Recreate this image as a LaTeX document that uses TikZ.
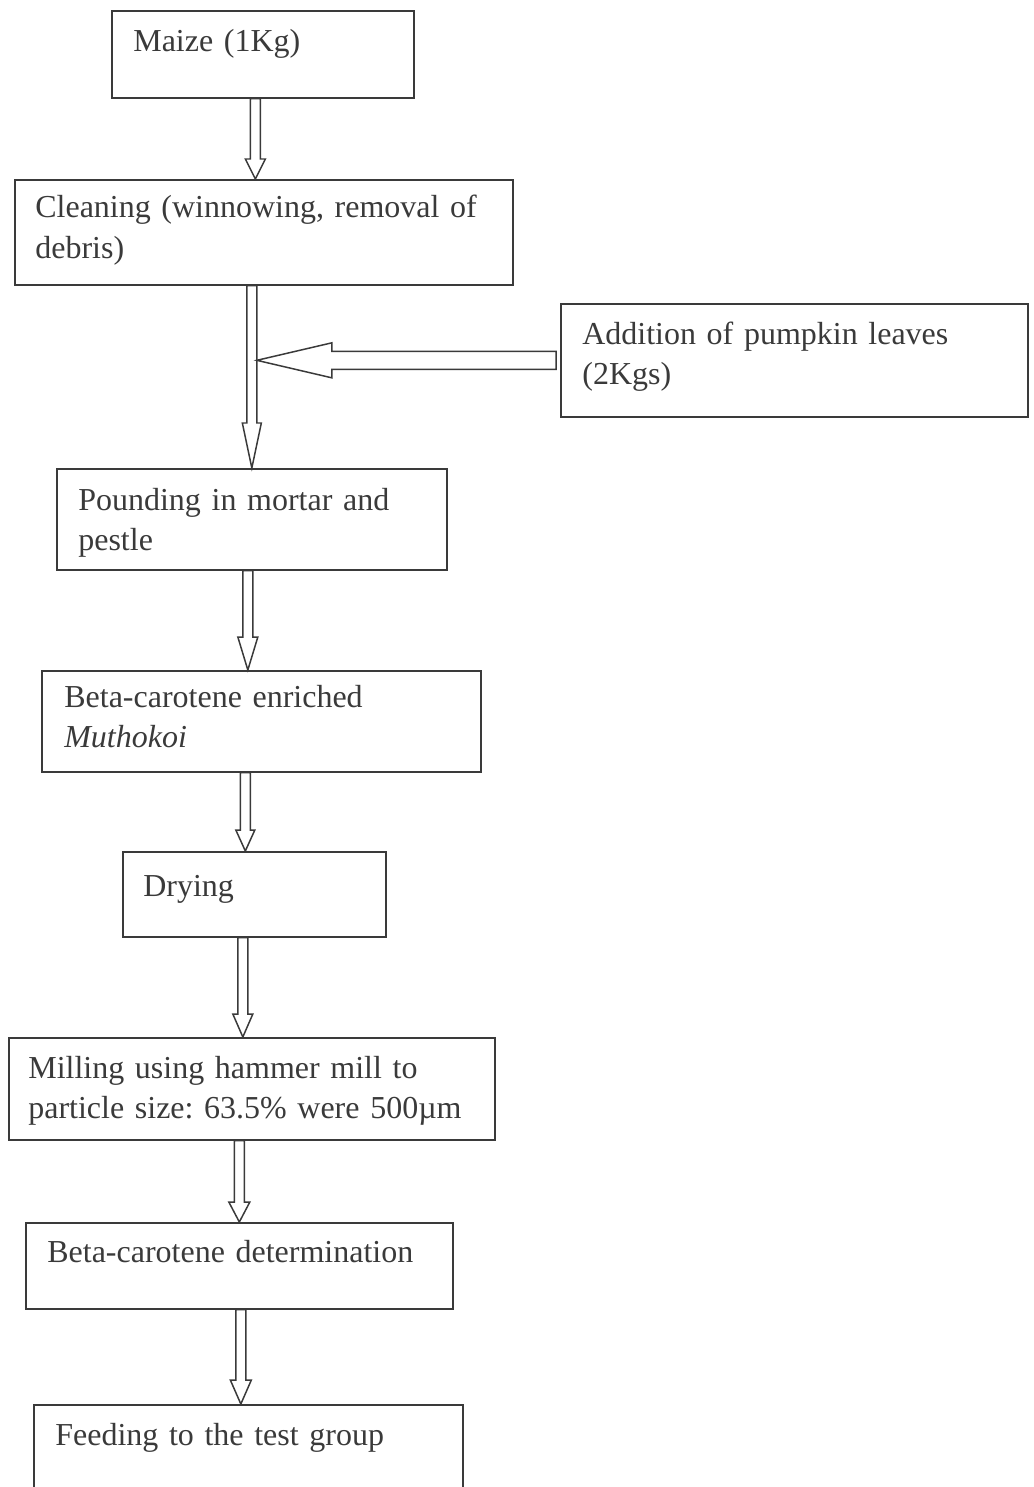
\documentclass[tikz,border=0pt]{standalone}
\usepackage{fontspec}
\setmainfont{Liberation Serif}
\frenchspacing
\usetikzlibrary{calc}
\definecolor{ink}{HTML}{3A3A3A}
\tikzset{
  stepbox/.style={draw=ink, line width=0.95pt, rectangle, inner sep=0pt, anchor=north west},
  steptxt/.style={anchor=base west, inner sep=0pt, align=left, text width=9.5cm, text=ink,
    font=\fontsize{18.2}{22.8}\selectfont},
  hollow/.style={draw=ink, line width=0.85pt, line join=miter},
}
% hollow block arrow pointing down: from, to, head length, head half width
\newcommand{\downarr}[4]{%
  \draw[hollow] ($(#1)+(-0.1,0)$) -- ($(#2)+(-0.1,#3)$) -- ($(#2)+(-#4,#3)$) -- (#2)
    -- ($(#2)+(#4,#3)$) -- ($(#2)+(0.1,#3)$) -- ($(#1)+(0.1,0)$) -- cycle;}

\begin{document}
\begin{tikzpicture}
\useasboundingbox (0,0) rectangle (20.68,-29.74);

% boxes
\node[stepbox, minimum width=6.04cm, minimum height=1.74cm] (maize)   at (2.22,-0.20)  {};
\node[stepbox, minimum width=9.96cm, minimum height=2.10cm] (clean)   at (0.28,-3.58)  {};
\node[stepbox, minimum width=9.34cm, minimum height=2.26cm] (pumpkin) at (11.20,-6.06) {};
\node[stepbox, minimum width=7.80cm, minimum height=2.02cm] (pound)   at (1.12,-9.36)  {};
\node[stepbox, minimum width=8.78cm, minimum height=2.02cm] (enrich)  at (0.82,-13.40) {};
\node[stepbox, minimum width=5.26cm, minimum height=1.70cm] (dry)     at (2.44,-17.02) {};
\node[stepbox, minimum width=9.72cm, minimum height=2.04cm] (mill)    at (0.16,-20.74) {};
\node[stepbox, minimum width=8.54cm, minimum height=1.72cm] (betadet) at (0.50,-24.44) {};
\node[stepbox, minimum width=8.58cm, minimum height=2.20cm] (feed)    at (0.66,-28.08) {};

% texts
\node[steptxt] (maizelbl)   at ([shift={(0.44,-0.84)}]maize.north west)   {Maize (1Kg)};
\node[steptxt] (cleanlbl)   at ([shift={(0.42,-0.78)}]clean.north west)   {Cleaning (winnowing, removal of\\debris)};
\node[steptxt] (pumpkinlbl) at ([shift={(0.44,-0.82)}]pumpkin.north west) {Addition of pumpkin leaves\\(2Kgs)};
\node[steptxt] (poundlbl)   at ([shift={(0.44,-0.84)}]pound.north west)   {Pounding in mortar and\\pestle};
\node[steptxt] (enrichlbl)  at ([shift={(0.46,-0.74)}]enrich.north west)  {Beta-carotene enriched\\\textit{Muthokoi}};
\node[steptxt] (drylbl)     at ([shift={(0.42,-0.90)}]dry.north west)     {Drying};
\node[steptxt] (milllbl)    at ([shift={(0.40,-0.82)}]mill.north west)    {Milling using hammer mill to\\particle size: 63.5\% were 500µm};
\node[steptxt] (betadetlbl) at ([shift={(0.44,-0.80)}]betadet.north west) {Beta-carotene determination};
\node[steptxt] (feedlbl)    at ([shift={(0.44,-0.82)}]feed.north west)    {Feeding to the test group};

% arrows
\coordinate (a1) at ([xshift=-0.15cm]maize.south);
\coordinate (a2) at ([xshift=-0.24cm]clean.south);
\coordinate (a3) at ([xshift=-0.08cm]pound.south);
\coordinate (a4) at ([xshift=-0.32cm]enrich.south);
\coordinate (a5) at ([xshift=-0.23cm]dry.south);
\coordinate (a6) at ([xshift=-0.25cm]mill.south);
\coordinate (a7) at ([xshift=0.03cm]betadet.south);
\downarr{a1}{a1 |- clean.north}{0.40}{0.20}
\downarr{a2}{a2 |- pound.north}{0.90}{0.19}
\downarr{a3}{a3 |- enrich.north}{0.66}{0.20}
\downarr{a4}{a4 |- dry.north}{0.42}{0.19}
\downarr{a5}{a5 |- mill.north}{0.46}{0.20}
\downarr{a6}{a6 |- betadet.north}{0.40}{0.21}
\downarr{a7}{a7 |- feed.north}{0.48}{0.21}

% side input
\coordinate (p1) at ([xshift=-0.08cm]pumpkin.west);
\coordinate (p2) at ($(a2 |- pumpkin.west)+(0.1,0)$);
\draw[hollow] ($(p1)+(0,0.18)$) -- ($(p2)+(1.5,0.18)$) -- ($(p2)+(1.5,0.35)$) -- (p2)
  -- ($(p2)+(1.5,-0.35)$) -- ($(p2)+(1.5,-0.18)$) -- ($(p1)+(0,-0.18)$) -- cycle;

\end{tikzpicture}
\end{document}
